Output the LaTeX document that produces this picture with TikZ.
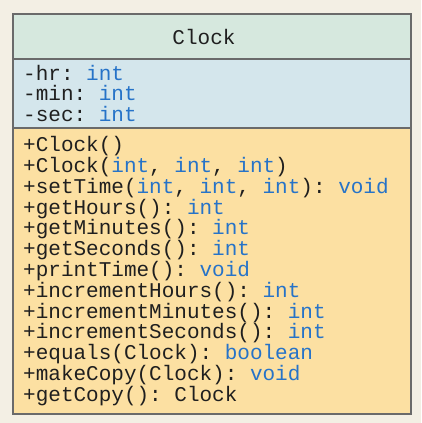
\documentclass[tikz,border=0pt]{standalone}
\usepackage{fontspec}
\setmonofont{Liberation Mono}
\definecolor{pagebg}{HTML}{F3EFE4}
\definecolor{headgreen}{HTML}{D6E8DE}
\definecolor{attrblue}{HTML}{D4E6EC}
\definecolor{opsorange}{HTML}{FCE0A2}
\definecolor{typeblue}{HTML}{2673C8}
\definecolor{edgegray}{HTML}{6A6A6A}
\newcommand{\ty}[1]{\textcolor{typeblue}{#1}}
\begin{document}
\begin{tikzpicture}[
        x=1pt, y=-1pt,
        compart/.style={draw=edgegray, line width=1.3pt, rectangle, minimum width=398pt, inner sep=0pt},
        member/.style={anchor=base west, inner sep=0pt, text=black!88, font=\ttfamily\fontsize{21}{21}\selectfont},
    ]
    \fill[pagebg] (0,0) rectangle (421,423);

    % compartments
    \node[compart, fill=headgreen, minimum height=45pt] (head) at (212,36.5) {};
    \node[compart, fill=attrblue, minimum height=69pt] (attrs) at (212,93.5) {};
    \node[compart, fill=opsorange, minimum height=286pt] (ops) at (212,271) {};

    \node[member, anchor=base] (name) at (204,44.5) {Clock};

    % attributes
    \foreach \i/\txt in {1/{-hr: \ty{int}}, 2/{-min: \ty{int}}, 3/{-sec: \ty{int}}}
        \node[member] (a\i) at (23,{80+(\i-1)*20.8}) {\txt};

    % operations
    \foreach \i/\txt in {
        1/{+Clock()},
        2/{+Clock(\ty{int}, \ty{int}, \ty{int})},
        3/{+setTime(\ty{int}, \ty{int}, \ty{int}): \ty{void}},
        4/{+getHours(): \ty{int}},
        5/{+getMinutes(): \ty{int}},
        6/{+getSeconds(): \ty{int}},
        7/{+printTime(): \ty{void}},
        8/{+incrementHours(): \ty{int}},
        9/{+incrementMinutes(): \ty{int}},
        10/{+incrementSeconds(): \ty{int}},
        11/{+equals(Clock): \ty{boolean}},
        12/{+makeCopy(Clock): \ty{void}},
        13/{+getCopy(): Clock}}
        \node[member] (m\i) at (23,{151.7+(\i-1)*20.8}) {\txt};

\end{tikzpicture}
\end{document}
